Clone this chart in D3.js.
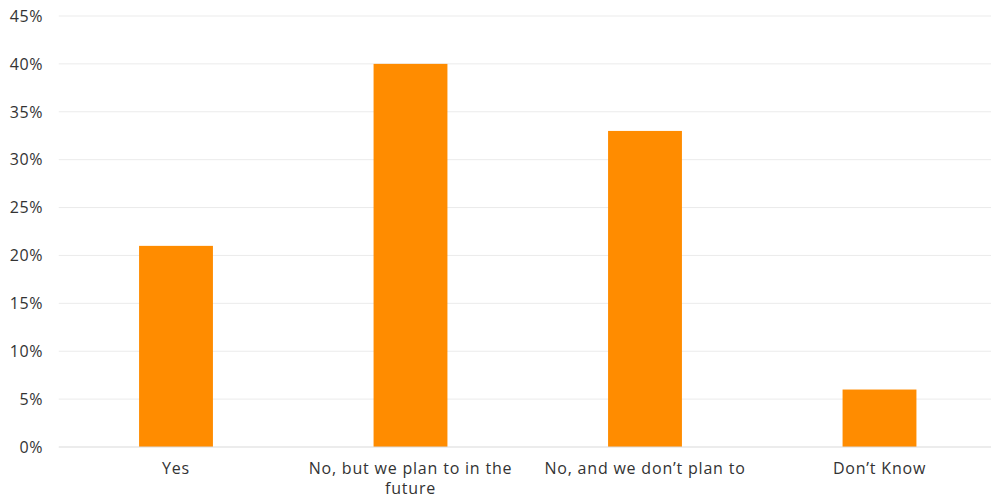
<!DOCTYPE html>
<html><head><meta charset="utf-8">
<script src="https://cdn.jsdelivr.net/npm/d3@7"></script>
<style>body{margin:0;background:#fff}svg{display:block}</style>
</head><body>
<svg id="c" width="991" height="497"></svg>
<script>
const categories = [["Yes"], ["No, but we plan to in the", "future"], ["No, and we don’t plan to"], ["Don’t Know"]];
const values = [21, 40, 33, 6];
const yTicks = [0, 5, 10, 15, 20, 25, 30, 35, 40, 45];

const svg = d3.select("#c");
const m = {left: 58.75, right: 996.75, top: 16, bottom: 447};
const x = d3.scaleBand().domain(d3.range(categories.length)).range([m.left, m.right]).paddingInner(0.685).paddingOuter(0.3425);
const y = d3.scaleLinear().domain([0, 45]).range([m.bottom, m.top]);
const font = "'Open Sans', sans-serif";

svg.append("g").selectAll("line").data(yTicks.filter(d => d > 0)).join("line")
  .attr("x1", m.left).attr("x2", m.right)
  .attr("y1", d => y(d)).attr("y2", d => y(d))
  .attr("stroke", "#ebebeb").attr("stroke-width", 1);

svg.append("g").selectAll("rect").data(values).join("rect")
  .attr("x", (d, i) => x(i)).attr("width", x.bandwidth())
  .attr("y", d => y(d)).attr("height", d => y(0) - y(d))
  .attr("fill", "#ff8c00");

svg.append("line").attr("x1", m.left).attr("x2", m.right)
  .attr("y1", y(0)).attr("y2", y(0)).attr("stroke", "#d9d9d9").attr("stroke-width", 1);

svg.append("g").selectAll("text").data(yTicks).join("text")
  .attr("x", 43).attr("y", d => y(d)).attr("dy", "0.36em")
  .attr("text-anchor", "end").attr("font-family", font).attr("font-size", 16)
  .attr("letter-spacing", 0.6)
  .attr("fill", "#333").text(d => d + "%");

const lab = svg.append("g").selectAll("text").data(categories).join("text")
  .attr("x", (d, i) => x(i) + x.bandwidth() / 2).attr("y", 473.5)
  .attr("text-anchor", "middle").attr("font-family", font).attr("font-size", 16)
  .attr("letter-spacing", 0.8)
  .attr("fill", "#333");
lab.selectAll("tspan").data(d => d).join("tspan")
  .attr("x", function() { return this.parentNode.getAttribute("x"); })
  .attr("dy", (d, j) => j ? 20 : 0).text(d => d);
</script>
</body></html>
